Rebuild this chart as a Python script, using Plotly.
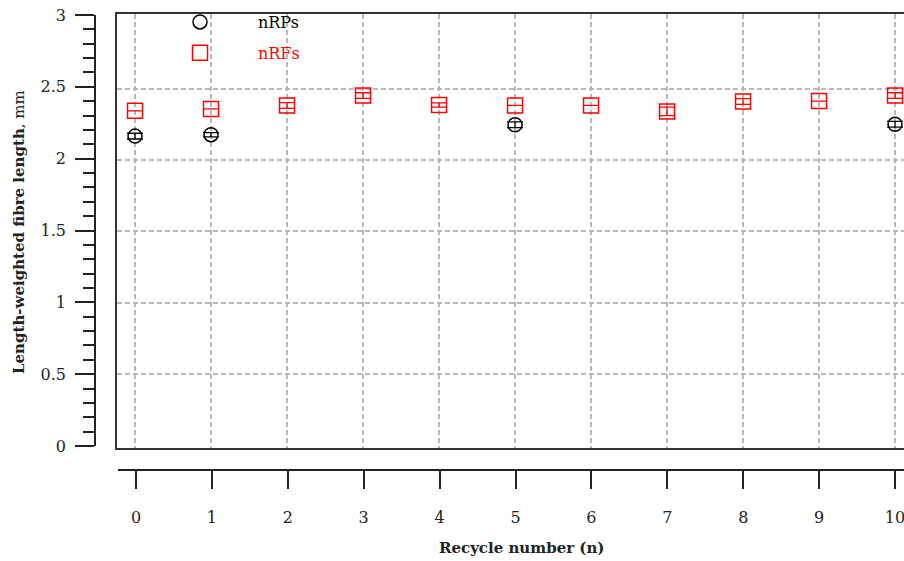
import plotly.graph_objects as go

# ---- data ----
rp_x = [0, 1, 5, 10]
rp_y = [2.167, 2.177, 2.247, 2.25]
rp_err = [0.02, 0.015, 0.02, 0.02]

rf_x = [0, 1, 2, 3, 4, 5, 6, 7, 8, 9, 10]
rf_y = [2.344, 2.358, 2.382, 2.451, 2.385, 2.382, 2.382, 2.34, 2.41, 2.413, 2.451]
rf_err = [None, None, 0.02, 0.02, 0.015, None, None, 0.03, 0.02, None, 0.02]

x_ticks = [0, 1, 2, 3, 4, 5, 6, 7, 8, 9, 10]
y_ticks = [0, 0.5, 1, 1.5, 2, 2.5, 3]

# ---- geometry (pixels) ----
FW, FH = 904, 561
ML, MR, MT, MB = 40, 0, 14, 40
PW = FW - ML - MR
PH = FH - MT - MB


def px(x):
    return (x - ML) / PW


def py(y):
    return (FH - MB - y) / PH


FONT = "DejaVu Serif"
x_range = [-0.237, 10.118]
RED = "#ff0000"

rp_marker = dict(symbol="circle-open", size=14, color="black", line=dict(width=1.5, color="black"))
rf_marker = dict(symbol="square-open", size=15, color=RED, line=dict(width=1.5, color=RED))

fig = go.Figure()

fig.add_trace(go.Scatter(
    x=rp_x, y=rp_y, mode="markers", name="nRPs", marker=rp_marker, showlegend=False,
    error_y=dict(type="data", array=rp_err, visible=True, color="black", thickness=1.3, width=8),
    cliponaxis=False,
))
fig.add_trace(go.Scatter(
    x=rf_x, y=rf_y, mode="markers", name="nRFs", marker=rf_marker, showlegend=False,
    error_y=dict(type="data", array=rf_err, visible=True, color=RED, thickness=1.3, width=8),
    cliponaxis=False,
))
# legend entries (symbols only, without error bars)
fig.add_trace(go.Scatter(x=[None], y=[None], mode="markers", name="nRPs",
                         marker=rp_marker, legendgroup="a"))
fig.add_trace(go.Scatter(x=[None], y=[None], mode="markers",
                         name="<span style='color:#ff0000'>nRFs</span>",
                         marker=rf_marker, legendgroup="b"))
# helper subplots carrying the detached axes
fig.add_trace(go.Scatter(x=[], y=[], xaxis="x2", yaxis="y2", showlegend=False))
fig.add_trace(go.Scatter(x=[], y=[], xaxis="x3", yaxis="y3", showlegend=False))

grid = dict(gridcolor="#b8b8b8", gridwidth=1.5, griddash="5px,3px")

fig.update_layout(
    width=FW, height=FH,
    margin=dict(l=ML, r=MR, t=MT, b=MB),
    paper_bgcolor="white", plot_bgcolor="rgba(0,0,0,0)",
    font=dict(family=FONT, size=16, color="black"),
    showlegend=True,
    legend=dict(x=px(142), y=py(5), xanchor="left", yanchor="top",
                bgcolor="rgba(0,0,0,0)", borderwidth=0, itemwidth=106,
                traceorder="grouped", tracegroupgap=7,
                font=dict(family=FONT, size=16, color="black")),
    xaxis=dict(domain=[px(117), 1], range=x_range, tickvals=x_ticks, showticklabels=False,
               ticks="", showline=True, mirror=True, linecolor="#333", linewidth=1.5,
               zeroline=False, **grid),
    yaxis=dict(domain=[py(448), py(14)], range=[-0.019, 3.023], tickvals=[0.5, 1, 1.5, 2, 2.5],
               showticklabels=False, ticks="", showline=True, linecolor="#333", linewidth=1.5,
               zeroline=False, **grid),
    xaxis2=dict(domain=[px(117), 1], anchor="y2", visible=False, range=x_range),
    yaxis2=dict(domain=[py(446), py(15)], anchor="free", position=px(95), side="left",
                range=[0, 3], tickvals=y_ticks, ticks="outside", ticklen=19, tickwidth=1.5,
                tickcolor="#222", showline=True, linecolor="#222", linewidth=1.5,
                showgrid=False, zeroline=False, ticklabelstandoff=6,
                tickfont=dict(family=FONT, size=16, color="#222"),
                minor=dict(dtick=0.1, ticks="outside", ticklen=11, tickwidth=1.5, tickcolor="#222",
                           showgrid=False)),
    xaxis3=dict(domain=[px(118), 1], anchor="free", position=py(470), side="bottom",
                range=x_range, tickvals=x_ticks, ticks="outside", ticklen=18, tickwidth=1.5,
                tickcolor="#222", showline=True, linecolor="#222", linewidth=1.5,
                showgrid=False, zeroline=False, ticklabelstandoff=15,
                ticklabeloverflow="allow",
                tickfont=dict(family=FONT, size=16, color="#222")),
    yaxis3=dict(domain=[py(448), py(14)], anchor="x3", visible=False, range=[0, 3]),
    annotations=[
        dict(text="<b>Recycle number (n)</b>", xref="paper", yref="paper",
             x=px(521), y=py(548), xanchor="center", yanchor="middle", showarrow=False,
             font=dict(family=FONT, size=15, color="#222")),
        dict(text="<b>Length-weighted fibre length</b>, mm", xref="paper", yref="paper",
             x=px(19), y=py(232), xanchor="center", yanchor="middle", showarrow=False,
             textangle=-90, font=dict(family=FONT, size=15, color="#222")),
    ],
)

fig.write_html("out.html", config={"displayModeBar": False},
               post_script="document.body.style.margin='0';")
